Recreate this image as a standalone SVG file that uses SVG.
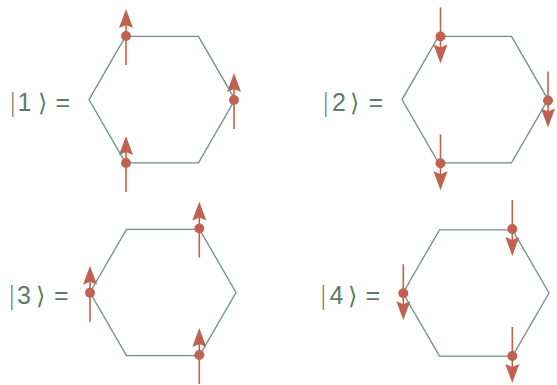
<svg xmlns="http://www.w3.org/2000/svg" xmlns:xlink="http://www.w3.org/1999/xlink" width="557" height="385" viewBox="0 0 557 385">
<style>
.hex{fill:none;stroke:#6f907d;stroke-width:1.3;stroke-linejoin:miter}
.spin{stroke:#c1614f;stroke-width:1.6}
.head{fill:#c1614f;stroke:none}
.dot{fill:#c1614f}
.lbl{font-family:"Liberation Sans",Arial,sans-serif;font-size:25px;fill:#5d7b67}
.br{font-family:"DejaVu Sans",sans-serif;font-size:24px;fill:#5d7b67}
.bar{font-family:"DejaVu Sans",sans-serif;font-size:25px;fill:#5d7b67;font-weight:300}
</style>
<defs>
<g id="up"><line class="spin" x1="0" y1="29" x2="0" y2="-14"/><path class="head" d="M0,-27 L7,-8 L0,-11 L-7,-8 Z"/></g>
</defs>
<g id="state1">
<text class="bar" x="8.5" y="111">|</text><text class="lbl" x="17.5" y="111">1</text><text class="br" x="38" y="111">⟩</text><text class="lbl" x="55.5" y="111">=</text>
<use href="#up" transform="translate(126,36)"/><use href="#up" transform="translate(234,100)"/><use href="#up" transform="translate(126,163)"/>
<polygon class="hex" points="89,99.6 125.5,36.4 198.5,36.4 235,99.6 198.5,162.8 125.5,162.8"/>
<circle class="dot" cx="126" cy="36" r="5"/><circle class="dot" cx="234" cy="100" r="5"/><circle class="dot" cx="126" cy="163" r="5"/>
</g>
<g id="state2">
<text class="bar" x="321.5" y="111">|</text><text class="lbl" x="332" y="111">2</text><text class="br" x="350" y="111">⟩</text><text class="lbl" x="368.5" y="111">=</text>
<use href="#up" transform="translate(440.5,36.5) rotate(180)"/><use href="#up" transform="translate(548,100.5) rotate(180)"/><use href="#up" transform="translate(440.5,163.3) rotate(180)"/>
<polygon class="hex" points="402,99.6 438.5,36.4 511.5,36.4 548,99.6 511.5,162.8 438.5,162.8"/>
<circle class="dot" cx="440.5" cy="36.5" r="5"/><circle class="dot" cx="548" cy="100.5" r="5"/><circle class="dot" cx="440.5" cy="163.3" r="5"/>
</g>
<g id="state3">
<text class="bar" x="7.5" y="304">|</text><text class="lbl" x="17" y="304">3</text><text class="br" x="36" y="304">⟩</text><text class="lbl" x="54" y="304">=</text>
<use href="#up" transform="translate(90,292.7)"/><use href="#up" transform="translate(199.3,228.5)"/><use href="#up" transform="translate(199.3,355)"/>
<polygon class="hex" points="90,292.5 126.5,229.3 199.5,229.3 236,292.5 199.5,355.7 126.5,355.7"/>
<circle class="dot" cx="90" cy="292.7" r="5"/><circle class="dot" cx="199.3" cy="228.5" r="5"/><circle class="dot" cx="199.3" cy="355" r="5"/>
</g>
<g id="state4">
<text class="bar" x="319" y="304">|</text><text class="lbl" x="329.5" y="304">4</text><text class="br" x="348" y="304">⟩</text><text class="lbl" x="365.5" y="304">=</text>
<use href="#up" transform="translate(403.3,293.3) rotate(180)"/><use href="#up" transform="translate(512.3,229) rotate(180)"/><use href="#up" transform="translate(512.3,356) rotate(180)"/>
<polygon class="hex" points="403,293 439.5,229.8 512.5,229.8 549,293 512.5,356.2 439.5,356.2"/>
<circle class="dot" cx="403.3" cy="293.3" r="5"/><circle class="dot" cx="512.3" cy="229" r="5"/><circle class="dot" cx="512.3" cy="356" r="5"/>
</g>
<g id="connectors"/>
</svg>
